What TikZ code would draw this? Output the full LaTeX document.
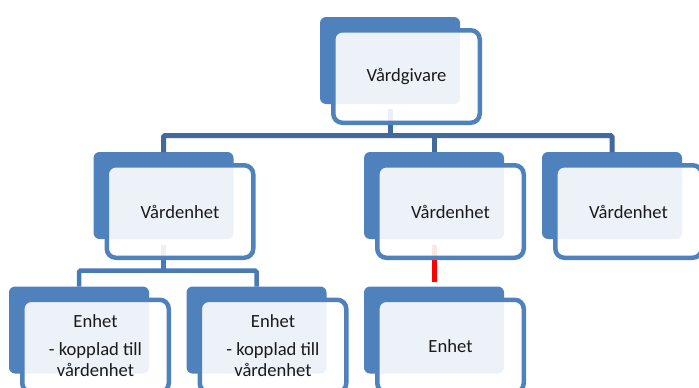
\documentclass[tikz,border=0pt]{standalone}
\usepackage{fontspec}
\setmainfont{Carlito}
\definecolor{boxblue}{HTML}{4F81BD}
\definecolor{connblue}{HTML}{41699E}
\definecolor{connblue2}{HTML}{4A7AB6}
\definecolor{txt}{HTML}{1A1A1A}
\begin{document}
\begin{tikzpicture}[x=1pt,y=-1pt,
  back/.style={rectangle, rounded corners=6pt, fill=boxblue, minimum width=140pt, minimum height=87pt, inner sep=0pt, outer sep=0pt},
  front/.style={rectangle, rounded corners=9pt, draw=boxblue, line width=4.5pt, fill=white, fill opacity=0.9, text opacity=1, minimum width=146.5pt, minimum height=92.5pt, inner sep=0pt, outer sep=0pt, align=center, font=\fontsize{18.6}{21}\selectfont, text=txt},
  conn/.style={draw=connblue, line width=5pt, rounded corners=1.5pt},
  conntwo/.style={draw=connblue2, line width=4.5pt, rounded corners=1.5pt},
  redconn/.style={draw=red, line width=5pt}]
\useasboundingbox (0,0) rectangle (699,388);
\clip (0,0) rectangle (699,388);
% back rectangles
\node[back] (g) at (390,60.5) {};
\node[back] (v1) at (163.5,195.5) {};
\node[back] (v2) at (434,195.5) {};
\node[back] (v3) at (612,195.5) {};
\node[back] (e1) at (79,330) {};
\node[back] (e2) at (256.5,330) {};
\node[back] (e3) at (434,330) {};
% connectors
\coordinate (b1) at (390,135.5);
\coordinate (b2) at (163.5,270.5);
\coordinate (r) at (434,282);
\draw[conn] ([yshift=-5pt]g.south) -- (b1);
\draw[conn] (v1.north) |- (b1) -| (v3.north);
\draw[conn] (b1 -| v2.north) -- (v2.north);
\draw[conntwo] ([yshift=-6pt]v1.south) -- (b2);
\draw[conntwo] (e1.north) |- (b2) -| (e2.north);
\draw[redconn] ([yshift=-6pt]v2.south) -- (r);
% front boxes
\node[front] (gf) at ([xshift=16.5pt,yshift=-16pt]g.center) {Vårdgivare};
\node[front] (v1f) at ([xshift=16.5pt,yshift=-16pt]v1.center) {Vårdenhet};
\node[front] (v2f) at ([xshift=16.5pt,yshift=-16pt]v2.center) {Vårdenhet};
\node[front] (v3f) at ([xshift=16.5pt,yshift=-16pt]v3.center) {Vårdenhet};
\node[front] (e1f) at ([xshift=16.5pt,yshift=-16pt]e1.center) {Enhet\\[7pt]- kopplad till\\vårdenhet};
\node[front] (e2f) at ([xshift=16.5pt,yshift=-16pt]e2.center) {Enhet\\[7pt]- kopplad till\\vårdenhet};
\node[front] (e3f) at ([xshift=16.5pt,yshift=-16pt]e3.center) {Enhet};
\end{tikzpicture}
\end{document}
